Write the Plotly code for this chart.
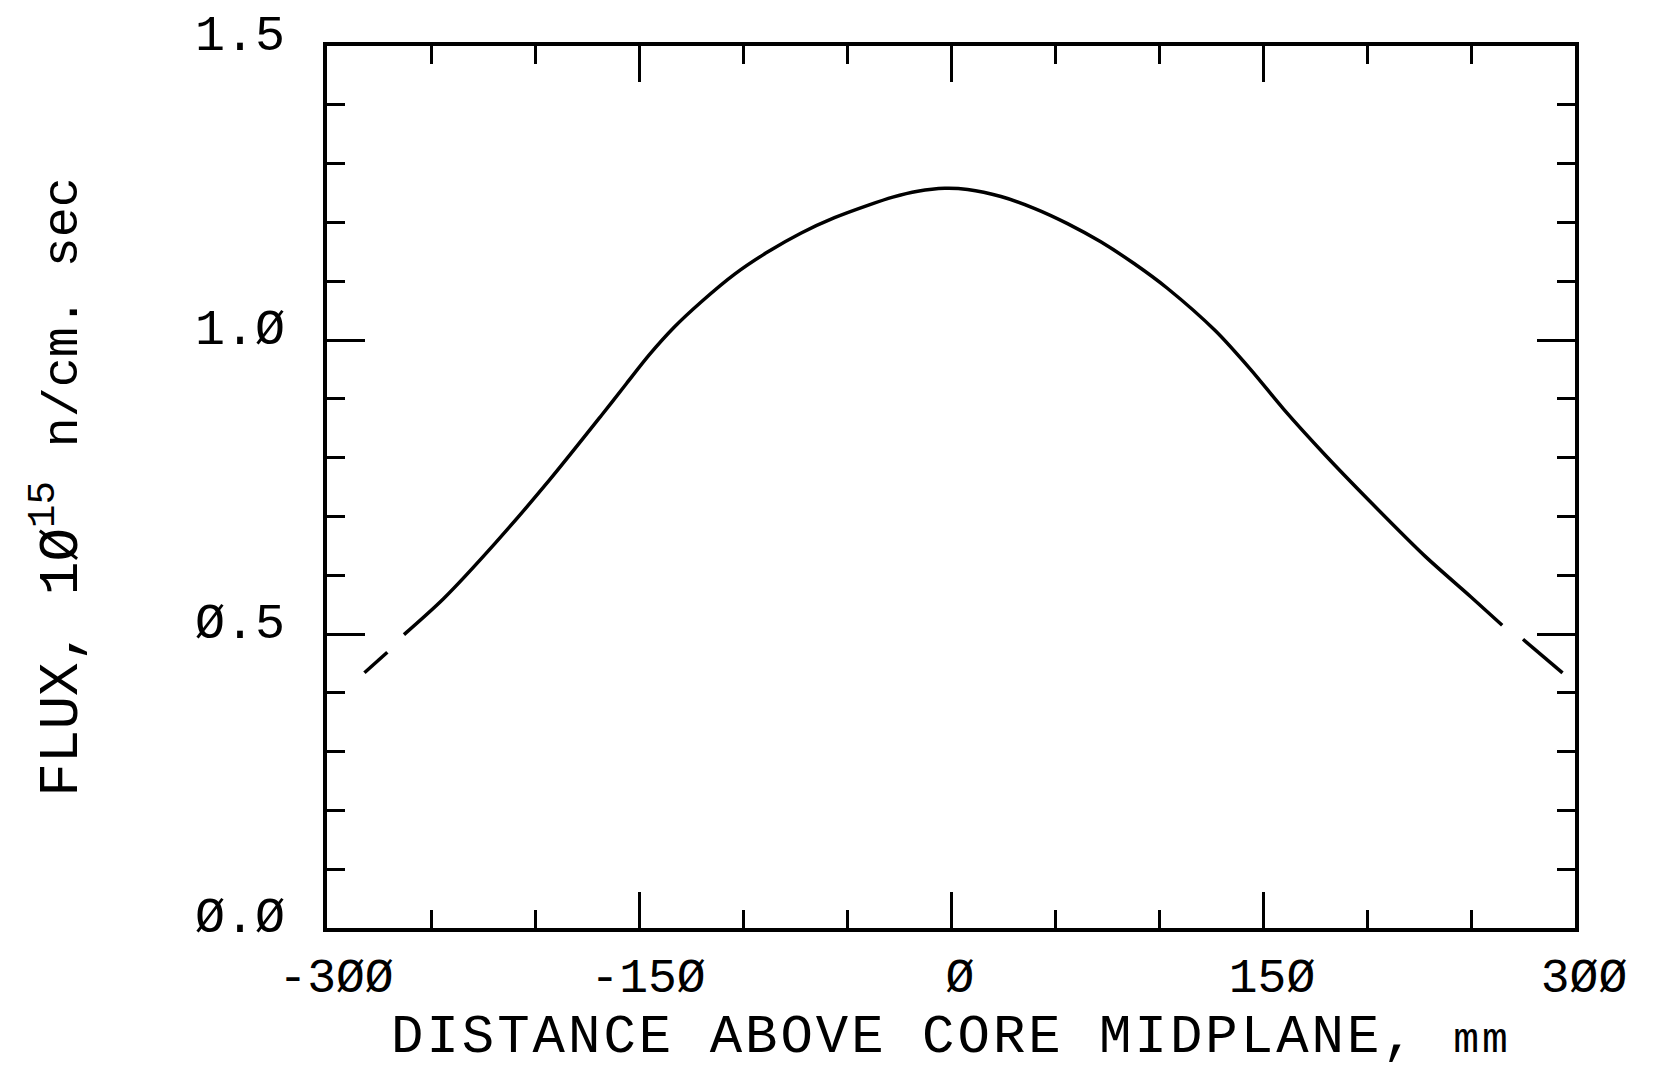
import plotly.graph_objects as go

# Axial flux profile (None = pen-lift gaps in the plotted curve)
distance_mm = [-282, -271, None, -263, -244, -219, -193, -168, -156, -145,
               -133, -120, -104, -88, -72, -56, -40, -28, -16, -3,
               8, 24, 40, 56, 72, 88, 104, 127, 144, 160,
               180, 201, 228, 250, 265, None, 275, 294]
flux = [0.434, 0.469, None, 0.499, 0.560, 0.655, 0.762, 0.872, 0.926, 0.975,
        1.022, 1.065, 1.112, 1.150, 1.182, 1.208, 1.229, 1.243, 1.253, 1.258,
        1.256, 1.244, 1.224, 1.198, 1.167, 1.130, 1.088, 1.016, 0.950, 0.882,
        0.804, 0.727, 0.632, 0.563, 0.515, None, 0.491, 0.434]

x_tickvals = [-300, -150, 0, 150, 300]
x_ticktext = ["-3ØØ", "-15Ø", "Ø", "15Ø", "3ØØ"]
y_tickvals = [0.0, 0.5, 1.0, 1.5]
y_ticktext = ["Ø.Ø", "Ø.5", "1.Ø", "1.5"]

x_title = ("<span style='letter-spacing:3px'>DISTANCE ABOVE CORE MIDPLANE, </span>"
           "<span style='font-size:43px;letter-spacing:3px'>mm</span>")
y_title = "FLUX, 1Ø<sup>15</sup> <span style='font-size:50px'>n/cm. sec</span>"

FONT = "Liberation Mono"

fig = go.Figure()
fig.add_trace(go.Scatter(
    x=distance_mm, y=flux, mode="lines",
    line=dict(color="black", width=3.5, shape="spline", smoothing=0.8),
    connectgaps=False, showlegend=False, hoverinfo="x+y",
))

axis_common = dict(
    showline=True, linecolor="black", linewidth=4, mirror="ticks",
    ticks="inside", tickcolor="black", tickwidth=3,
    showgrid=False, zeroline=False,
)

fig.update_xaxes(
    **axis_common,
    range=[-300, 300], tickmode="array", tickvals=x_tickvals, ticktext=x_ticktext,
    tickfont=dict(family=FONT, size=48, color="black"),
    ticklen=36, ticklabelstandoff=2, ticklabelshift=9,
    minor=dict(ticks="inside", dtick=50, tick0=0, ticklen=18, tickwidth=3, tickcolor="black", showgrid=False),
)
fig.update_yaxes(
    **axis_common,
    range=[0, 1.5], tickmode="array", tickvals=y_tickvals, ticktext=y_ticktext,
    tickfont=dict(family=FONT, size=50, color="black"),
    ticklen=38, ticklabelstandoff=28, ticklabelshift=-14,
    minor=dict(ticks="inside", dtick=0.1, tick0=0, ticklen=18, tickwidth=3, tickcolor="black", showgrid=False),
    title=dict(text=y_title, font=dict(family=FONT, size=56, color="black"), standoff=100),
)

# x-axis title placed as a text annotation below the tick labels
fig.add_annotation(
    text=x_title, xref="paper", yref="paper", x=0.5, y=-0.1236,
    xanchor="center", yanchor="middle", showarrow=False,
    font=dict(family=FONT, size=54, color="black"),
)

fig.update_layout(
    width=1654, height=1071,
    margin=dict(l=327, r=79, t=46, b=143, autoexpand=False),
    paper_bgcolor="white", plot_bgcolor="white",
    font=dict(family=FONT, color="black"),
)

fig.write_html("out.html")
